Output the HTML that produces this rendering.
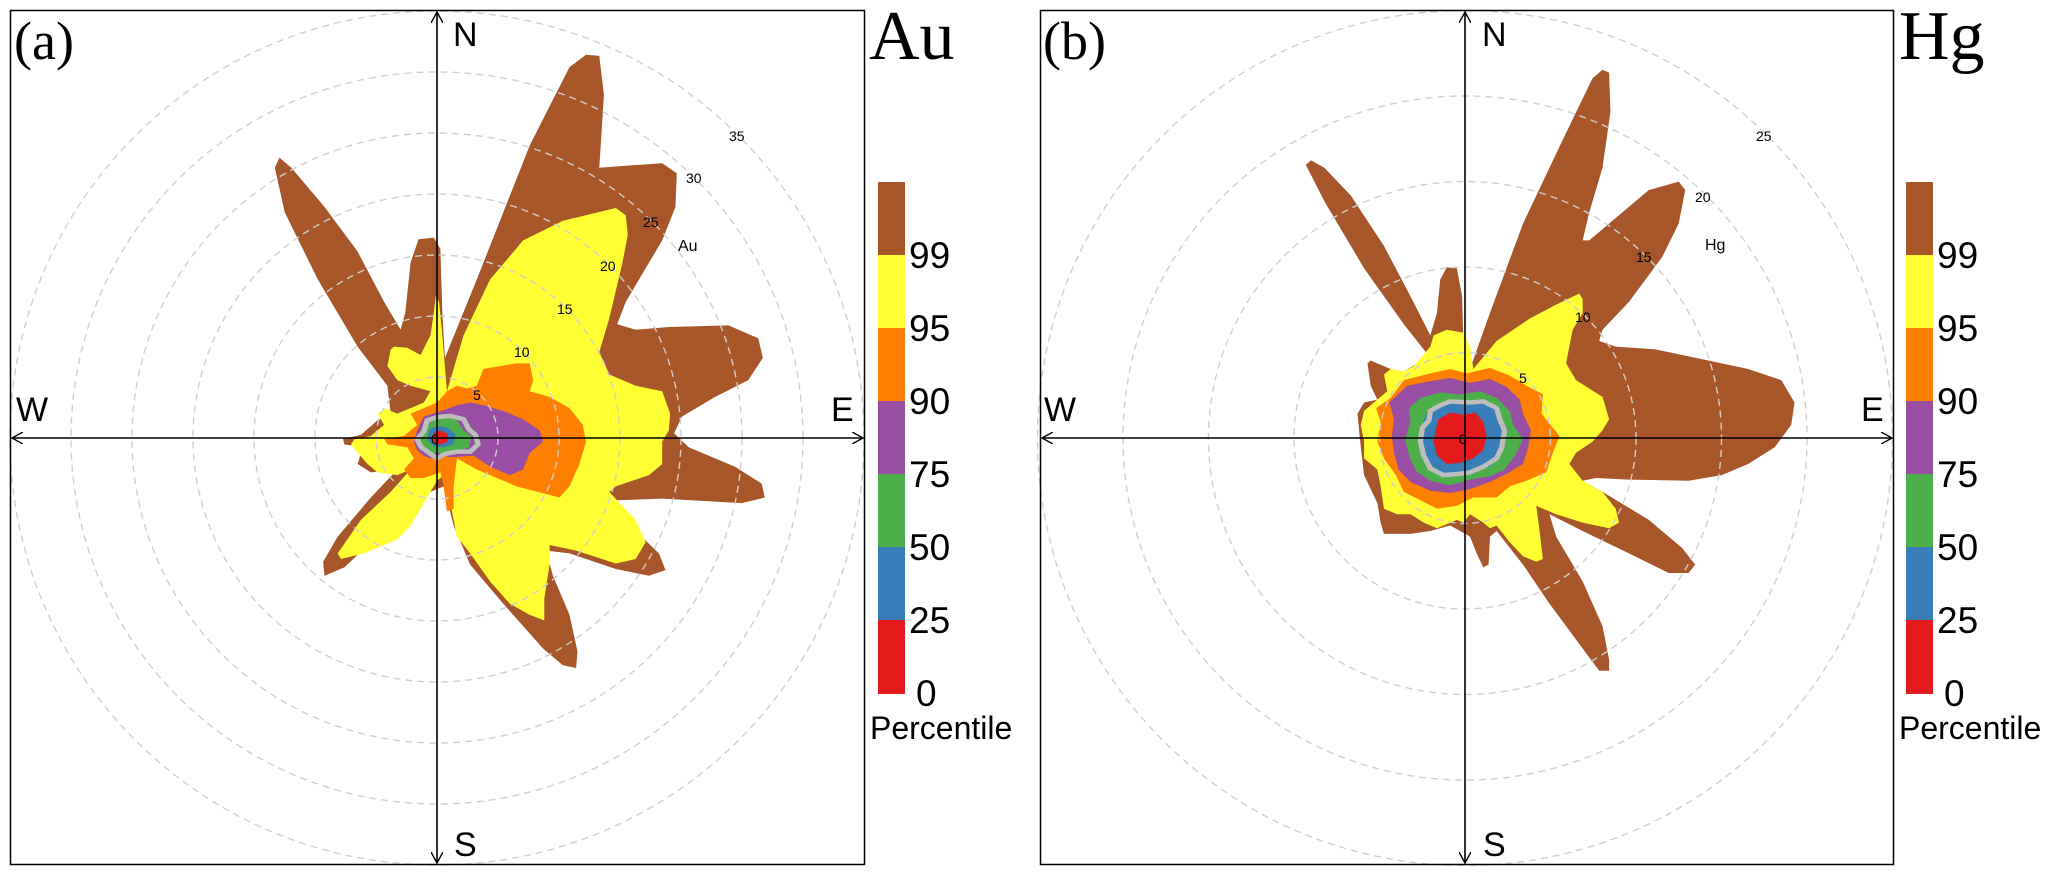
<!DOCTYPE html>
<html><head><meta charset="utf-8"><style>
html,body{margin:0;padding:0;background:#fff;}
svg{display:block;}
text{font-family:"Liberation Sans",sans-serif;}
.ser{font-family:"Liberation Serif",serif;}
</style></head><body>
<svg width="2067" height="872" viewBox="0 0 2067 872" xmlns="http://www.w3.org/2000/svg">
<defs>
<marker id="ah" viewBox="0 0 12 12" refX="11" refY="6" markerWidth="12" markerHeight="12" markerUnits="userSpaceOnUse" orient="auto-start-reverse">
<path d="M0,0 L11,6 L0,12" fill="none" stroke="#000" stroke-width="1.4"/>
</marker>
</defs>
<rect width="2067" height="872" fill="#fff"/>

<!-- ================= PANEL A ================= -->
<g transform="scale(0.6622,0.559)">
<path fill="#A65628" d="M600,610 L612,560 620,470 632,428 655,425 665,445 668,560 672,640 720,500 800,260 860,120 885,98 905,100 912,170 905,300 950,296 1000,292 1022,310 1020,370 1000,430 970,490 945,540 932,580 960,590 1010,585 1100,582 1145,605 1152,640 1130,680 1080,710 1030,745 1018,775 1040,800 1110,835 1150,865 1155,890 1120,900 1000,892 930,895 960,950 995,990 1005,1020 980,1030 930,1018 860,990 825,985 835,1030 860,1100 872,1165 870,1195 850,1190 820,1160 760,1080 710,1010 685,940 670,870 650,880 610,950 590,970 560,970 520,1015 490,1030 488,1005 510,960 560,890 600,840 560,845 540,830 548,800 520,795 518,785 545,778 570,752 590,740 585,690 540,620 480,500 430,380 415,300 422,282 440,300 490,370 540,450 580,540 605,590 Z"/>
<path fill="#FFFF33" d="M590,625 L595,620 615,622 635,635 650,600 655,560 658,530 663,540 668,600 675,700 700,600 740,500 790,430 850,395 930,372 945,385 948,420 940,470 930,520 920,570 905,630 920,670 960,690 1000,700 1012,740 1010,770 1000,790 1000,830 980,850 930,870 920,880 960,930 975,970 960,1000 930,1008 870,985 830,975 830,1010 822,1070 822,1110 800,1100 770,1080 740,1040 710,990 690,960 680,900 670,850 660,860 640,900 620,940 600,965 580,975 550,990 515,1000 510,990 545,930 590,880 620,840 600,850 570,845 555,830 540,810 530,795 535,786 560,780 580,760 570,740 580,730 600,740 620,730 640,720 650,700 620,690 600,680 585,655 Z"/>
<path fill="#FF7F00" d="M640,730 L660,720 675,700 690,690 705,695 720,690 730,660 780,650 800,650 805,680 800,700 830,710 860,730 880,760 885,790 875,830 860,870 845,890 780,870 720,840 690,820 685,870 685,910 675,915 670,870 665,845 640,855 620,855 610,840 625,820 615,800 585,795 580,785 610,780 630,760 620,740 Z"/>
<path fill="#984EA3" d="M640,745 L660,738 690,725 710,720 730,725 760,735 790,750 815,770 820,790 800,810 790,840 770,850 740,835 715,815 680,818 670,815 650,820 640,815 630,805 625,790 630,770 Z"/>
<path fill="#4DAF4A" d="M640,757 L655,748 672,745 690,752 700,770 712,780 708,800 690,808 670,812 650,810 636,800 632,780 Z"/>
<path fill="#377EB8" d="M648,768 L662,762 678,766 688,778 684,795 670,800 655,798 646,788 Z"/>
<path fill="#E41A1C" d="M654,775 L665,770 676,776 676,790 664,796 654,790 Z"/>
<path fill="none" stroke="#BDBDBD" stroke-width="8" d="M645,752 L660,746 680,744 700,750 708,768 718,778 722,795 710,808 690,808 672,812 660,820 648,810 636,800 630,786 640,772 Z"/>
</g>
<g fill="none" stroke="#cfcfcf" stroke-width="1.4" stroke-dasharray="7,5">
<circle cx="437" cy="438" r="61"/><circle cx="437" cy="438" r="122"/><circle cx="437" cy="438" r="183"/><circle cx="437" cy="438" r="244"/><circle cx="437" cy="438" r="305"/><circle cx="437" cy="438" r="366"/><circle cx="437" cy="438" r="427"/>
</g>
<rect x="10.5" y="10.5" width="854" height="854" fill="none" stroke="#000" stroke-width="1.5"/>
<line x1="12" y1="438" x2="863" y2="438" stroke="#000" stroke-width="1.6" marker-start="url(#ah)" marker-end="url(#ah)"/>
<line x1="437" y1="12" x2="437" y2="863" stroke="#000" stroke-width="1.6" marker-start="url(#ah)" marker-end="url(#ah)"/>
<text x="453" y="46" font-size="34">N</text>
<text x="454" y="856" font-size="34">S</text>
<text x="16" y="421" font-size="34">W</text>
<text x="831" y="421" font-size="34">E</text>
<text class="ser" x="14" y="59" font-size="54">(a)</text>
<text class="ser" x="869" y="59" font-size="70">Au</text>
<g font-size="14" fill="#000">
<text x="431" y="444">0</text>
<text x="473" y="400">5</text>
<text x="514" y="357">10</text>
<text x="557" y="314">15</text>
<text x="600" y="271">20</text>
<text x="643" y="227">25</text>
<text x="686" y="183">30</text>
<text x="729" y="141">35</text>
<text x="678" y="251" font-size="16">Au</text>
</g>
<g>
<rect x="878" y="182" width="27" height="74" fill="#A65628"/>
<rect x="878" y="255" width="27" height="74" fill="#FFFF33"/>
<rect x="878" y="328" width="27" height="74" fill="#FF7F00"/>
<rect x="878" y="401" width="27" height="74" fill="#984EA3"/>
<rect x="878" y="474" width="27" height="74" fill="#4DAF4A"/>
<rect x="878" y="547" width="27" height="74" fill="#377EB8"/>
<rect x="878" y="620" width="27" height="74" fill="#E41A1C"/>
</g>
<g font-size="37">
<text x="909" y="268">99</text>
<text x="909" y="341">95</text>
<text x="909" y="414">90</text>
<text x="909" y="487">75</text>
<text x="909" y="560">50</text>
<text x="909" y="633">25</text>
<text x="916" y="706">0</text>
</g>
<text x="870" y="739" font-size="32">Percentile</text>

<!-- ================= PANEL B ================= -->
<g transform="translate(1033,0) scale(0.6622,0.559)">
<path fill="#A65628" d="M600,640 L560,580 500,480 440,360 412,295 420,287 440,300 480,350 530,440 570,530 600,600 610,560 615,500 625,478 640,480 648,530 650,620 660,660 690,560 740,400 800,250 845,140 860,125 870,130 872,200 860,300 840,380 830,430 840,430 880,390 930,340 975,325 985,340 975,400 950,460 900,540 860,590 855,610 880,620 940,625 1000,640 1080,660 1130,680 1150,720 1145,760 1120,800 1080,830 1040,850 990,860 900,858 850,855 830,860 860,880 930,930 980,980 1000,1010 990,1025 960,1025 900,990 830,950 780,920 790,960 830,1040 860,1120 870,1180 870,1200 855,1200 830,1160 780,1080 740,1010 700,950 690,960 688,1010 680,1015 670,990 660,960 645,950 630,940 600,950 570,955 530,955 525,935 520,900 500,850 495,800 490,740 500,720 520,715 510,690 505,650 510,645 520,650 540,660 560,665 580,650 Z"/>
<path fill="#FFFF33" d="M600,620 L605,600 625,590 650,595 660,620 665,660 700,610 750,570 790,545 825,525 830,535 830,560 815,590 810,620 805,650 820,680 860,710 870,750 860,770 845,790 820,810 810,830 830,860 860,880 880,910 885,935 870,945 830,935 790,920 760,905 765,950 770,1000 760,1005 740,995 720,970 700,940 690,945 680,935 660,920 650,935 640,930 620,940 610,945 590,935 570,920 550,920 530,910 525,870 520,840 500,820 500,790 495,760 500,735 520,715 535,700 530,670 540,660 560,665 575,655 Z"/>
<path fill="#FF7F00" d="M560,680 L600,668 630,660 655,668 690,658 720,672 745,690 770,705 768,740 795,780 785,810 775,845 745,860 720,870 700,890 665,890 640,905 610,910 585,895 560,880 548,850 530,820 520,790 525,755 518,730 540,712 Z"/>
<path fill="#984EA3" d="M565,690 L600,682 630,676 660,685 690,678 715,692 735,715 740,740 752,770 748,800 740,830 715,848 690,862 660,875 630,882 600,878 570,862 552,840 545,810 542,780 545,750 538,720 Z"/>
<path fill="#4DAF4A" d="M585,712 L615,702 645,706 675,700 700,712 720,735 725,760 740,785 728,815 712,840 690,852 660,858 630,868 600,860 578,842 568,815 562,785 570,755 568,730 Z"/>
<path fill="#377EB8" d="M598,730 L625,720 655,723 680,718 700,735 708,765 712,790 705,815 690,835 665,842 640,850 615,845 598,828 590,805 585,780 590,752 Z"/>
<path fill="#E41A1C" d="M612,750 L630,738 650,742 668,738 680,755 685,780 680,805 665,820 645,828 625,830 610,815 605,790 608,770 Z"/>
<path fill="none" stroke="#BDBDBD" stroke-width="8" d="M600,735 L615,725 630,718 660,720 680,718 700,730 705,750 712,770 708,800 700,820 680,835 660,845 640,848 620,850 600,838 590,815 585,790 588,765 598,752 Z"/>
</g>
<g fill="none" stroke="#cfcfcf" stroke-width="1.4" stroke-dasharray="7,5">
<circle cx="1465" cy="438" r="85.5"/><circle cx="1465" cy="438" r="171"/><circle cx="1465" cy="438" r="256.5"/><circle cx="1465" cy="438" r="342"/><circle cx="1465" cy="438" r="427.5"/>
</g>
<rect x="1040.5" y="10.5" width="853" height="854" fill="none" stroke="#000" stroke-width="1.5"/>
<line x1="1042" y1="438" x2="1892" y2="438" stroke="#000" stroke-width="1.6" marker-start="url(#ah)" marker-end="url(#ah)"/>
<line x1="1465" y1="12" x2="1465" y2="863" stroke="#000" stroke-width="1.6" marker-start="url(#ah)" marker-end="url(#ah)"/>
<text x="1482" y="46" font-size="34">N</text>
<text x="1483" y="856" font-size="34">S</text>
<text x="1044" y="421" font-size="34">W</text>
<text x="1861" y="421" font-size="34">E</text>
<text class="ser" x="1043" y="59" font-size="54">(b)</text>
<text class="ser" x="1899" y="59" font-size="70">Hg</text>
<g font-size="14" fill="#000">
<text x="1459" y="444">0</text>
<text x="1519" y="383">5</text>
<text x="1575" y="322">10</text>
<text x="1636" y="262">15</text>
<text x="1695" y="202">20</text>
<text x="1756" y="141">25</text>
<text x="1705" y="250" font-size="16">Hg</text>
</g>
<g>
<rect x="1906" y="182" width="27" height="74" fill="#A65628"/>
<rect x="1906" y="255" width="27" height="74" fill="#FFFF33"/>
<rect x="1906" y="328" width="27" height="74" fill="#FF7F00"/>
<rect x="1906" y="401" width="27" height="74" fill="#984EA3"/>
<rect x="1906" y="474" width="27" height="74" fill="#4DAF4A"/>
<rect x="1906" y="547" width="27" height="74" fill="#377EB8"/>
<rect x="1906" y="620" width="27" height="74" fill="#E41A1C"/>
</g>
<g font-size="37">
<text x="1937" y="268">99</text>
<text x="1937" y="341">95</text>
<text x="1937" y="414">90</text>
<text x="1937" y="487">75</text>
<text x="1937" y="560">50</text>
<text x="1937" y="633">25</text>
<text x="1944" y="706">0</text>
</g>
<text x="1899" y="739" font-size="32">Percentile</text>
</svg>
</body></html>
